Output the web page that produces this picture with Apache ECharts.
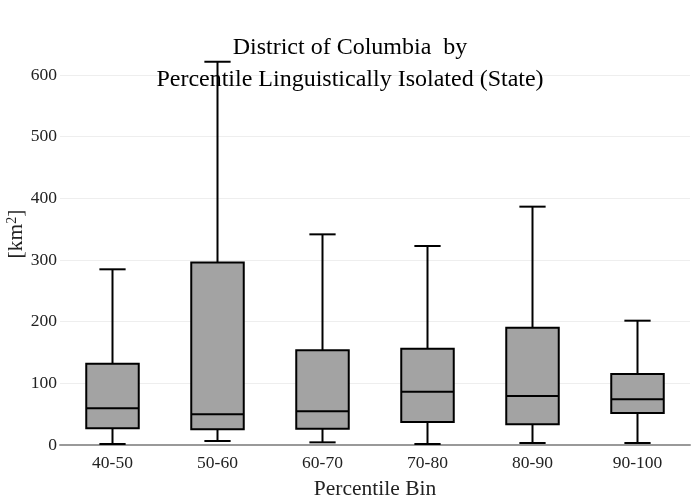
<!DOCTYPE html>
<html><head><meta charset="utf-8">
<script src="https://cdn.jsdelivr.net/npm/echarts@6/dist/echarts.min.js"></script>
<style>html,body{margin:0;padding:0;background:#fff}#c{width:700px;height:500px}</style>
</head><body><div id="c"></div>
<script>
const categories = ['40-50','50-60','60-70','70-80','80-90','90-100'];
const lowVals    = [1.6, 6.5, 4.3, 1.6, 3.2, 3.2];
const q1Vals     = [27, 25.4, 26.5, 37.3, 33.5, 51.9];
const medianVals = [59.5, 50, 54.6, 86.5, 79.5, 74];
const q3Vals     = [131.9, 296, 153.5, 156.2, 190.3, 115.1];
const highVals   = [284.9, 621.5, 341.6, 322.7, 386.5, 201.6];
const yTicks = [0,100,200,300,400,500,600];

const data = categories.map((c,i)=>[i, lowVals[i], q1Vals[i], medianVals[i], q3Vals[i], highVals[i]]);
const font = 'Liberation Serif';

const chart = echarts.init(document.getElementById('c'), null, {renderer:'canvas'});
chart.setOption({
  animation:false,
  backgroundColor:'#fff',
  title:{
    text:'District of Columbia  by\nPercentile Linguistically Isolated (State)',
    left:345, textAlign:'center', top:27,
    textStyle:{fontFamily:font, fontSize:24, fontWeight:'normal', color:'#000', lineHeight:32}
  },
  grid:{left:60, right:10, top:75, bottom:55, outerBoundsMode:'none', containLabel:false},
  xAxis:{
    type:'category', data:categories,
    boundaryGap:true,
    axisLine:{show:true, lineStyle:{color:'#999', width:2}},
    axisTick:{show:false},
    axisLabel:{fontFamily:font, fontSize:17.5, color:'#222', margin:9},
    name:'Percentile Bin', nameLocation:'middle', nameGap:33,
    nameTextStyle:{fontFamily:font, fontSize:21.5, color:'#222'}
  },
  yAxis:{
    type:'value', min:0, max:600, interval:100,
    axisLine:{show:false}, axisTick:{show:false},
    splitLine:{show:true, lineStyle:{color:'#eee', width:1}},
    axisLabel:{fontFamily:font, fontSize:17.5, color:'#222', margin:3},
    name:'{a|[km}{s|2}{a|]}', nameLocation:'middle', nameGap:32, nameRotate:90,
    nameMoveOverlap:false,
    nameTextStyle:{padding:[0,0,0,52], rich:{
      a:{fontFamily:font, fontSize:21.5, color:'#222'},
      s:{fontFamily:font, fontSize:14, color:'#222', verticalAlign:'top', padding:[0,0,9,0]}
    }}
  },
  series:[{
    type:'custom',
    clip:false,
    data:data,
    encode:{x:0, y:[1,2,3,4,5]},
    renderItem:function(params, api){
      const i = api.value(0);
      const pLow = api.coord([i, api.value(1)]);
      const pQ1 = api.coord([i, api.value(2)]);
      const pMed = api.coord([i, api.value(3)]);
      const pQ3 = api.coord([i, api.value(4)]);
      const pHigh = api.coord([i, api.value(5)]);
      const band = api.size([1,0])[0];
      const bw = band*0.5, cw = band*0.25;
      const x = pMed[0];
      const ls = {stroke:'#000', lineWidth:2, fill:null};
      return {type:'group', children:[
        {type:'line', shape:{x1:x,y1:pQ3[1],x2:x,y2:pHigh[1]}, style:ls},
        {type:'line', shape:{x1:x,y1:pQ1[1],x2:x,y2:pLow[1]}, style:ls},
        {type:'line', shape:{x1:x-cw/2,y1:pHigh[1],x2:x+cw/2,y2:pHigh[1]}, style:ls},
        {type:'line', shape:{x1:x-cw/2,y1:pLow[1],x2:x+cw/2,y2:pLow[1]}, style:ls},
        {type:'rect', shape:{x:x-bw/2, y:pQ3[1], width:bw, height:pQ1[1]-pQ3[1]},
          style:{fill:'#a3a3a3', stroke:'#000', lineWidth:2}},
        {type:'line', shape:{x1:x-bw/2,y1:pMed[1],x2:x+bw/2,y2:pMed[1]}, style:ls}
      ]};
    }
  }]
});
</script></body></html>
